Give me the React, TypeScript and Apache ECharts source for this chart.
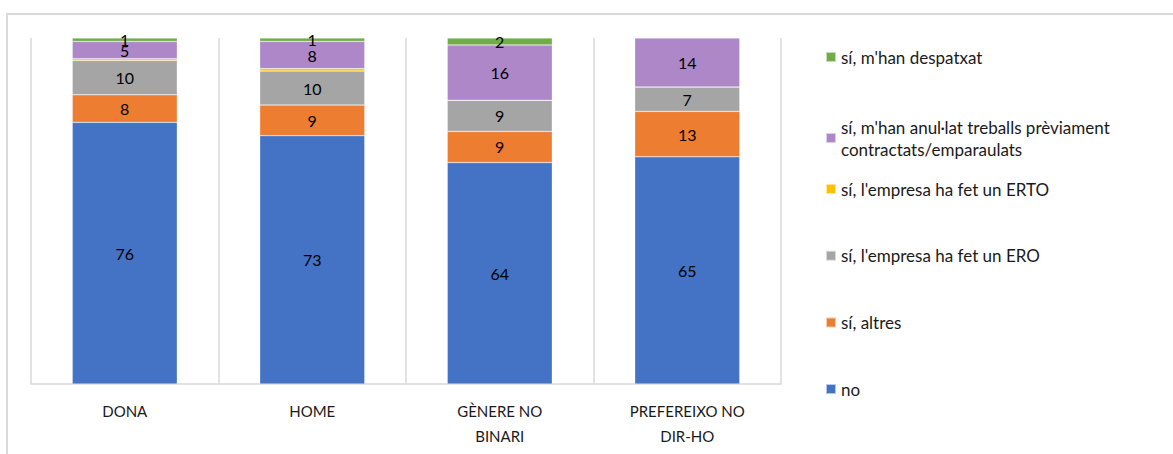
import React, { useEffect, useRef } from "react";
import * as echarts from "echarts";

const categories = ["DONA", "HOME", "GÈNERE NO\nBINARI", "PREFEREIXO NO\nDIR-HO"];

const nameNo = "no";
const nameAltres = "sí, altres";
const nameERO = "sí, l'empresa ha fet un ERO";
const nameERTO = "sí, l'empresa ha fet un ERTO";
const nameAnulat = "sí, m'han anul·lat treballs prèviament contractats/emparaulats";
const nameDespatxat = "sí, m'han despatxat";

const valuesNo = [76, 73, 64, 65];
const valuesAltres = [8, 9, 9, 13];
const valuesERO = [10, 10, 9, 7];
const valuesERTO = [0.5, 0.7, 0, 0];
const valuesAnulat = [5, 8, 16, 14];
const valuesDespatxat = [1, 1, 2, 0];

const FONT = "Lato";

export default function App() {
  const ref = useRef<HTMLDivElement>(null);

  useEffect(() => {
    if (!ref.current) return;
    const chart = echarts.init(ref.current, undefined, { renderer: "svg" });

    const seriesDefs = [
      { name: nameNo, values: valuesNo, color: "#4472C4", label: true },
      { name: nameAltres, values: valuesAltres, color: "#ED7D31", label: true },
      { name: nameERO, values: valuesERO, color: "#A5A5A5", label: true },
      { name: nameERTO, values: valuesERTO, color: "#FFC000", label: false },
      { name: nameAnulat, values: valuesAnulat, color: "#AD87C8", label: true },
      { name: nameDespatxat, values: valuesDespatxat, color: "#70AD47", label: true },
    ];

    const totals = categories.map((_, i) =>
      seriesDefs.reduce((s, d) => s + d.values[i], 0)
    );

    const series = seriesDefs.map((d) => ({
      name: d.name,
      type: "bar",
      stack: "total",
      barWidth: "56%",
      itemStyle: { color: d.color, borderColor: "rgba(255,255,255,0.6)", borderWidth: 0.5 },
      data: d.values.map((v, i) => (v / totals[i]) * 100),
      label: {
        show: d.label,
        position: "inside",
        fontFamily: FONT,
        fontSize: 16,
        color: "#000",
        formatter: (p: any) => {
          const raw = d.values[p.dataIndex];
          return raw > 0 ? String(Math.round(raw)) : "";
        },
      },
    }));

    const legendText = {
      fontFamily: FONT,
      fontSize: 17,
      color: "#1a1a1a",
      lineHeight: 20,
    };

    chart.setOption({
      animation: false,
      backgroundColor: "#fff",
      grid: { left: 31, right: 392, top: 38, bottom: 70 },
      xAxis: {
        type: "category",
        data: categories,
        axisLine: { lineStyle: { color: "#d9d9d9", width: 1.5 } },
        axisTick: { show: false },
        splitLine: { show: true, interval: 0, lineStyle: { color: "#d9d9d9", width: 1.5 } },
        axisLabel: {
          interval: 0,
          fontFamily: FONT,
          fontSize: 15,
          color: "#1a1a1a",
          lineHeight: 25,
          margin: 14,
        },
      },
      yAxis: { type: "value", min: 0, max: 100, show: false },
      legend: [
        {
          data: [nameDespatxat],
          left: 820,
          top: 42,
          orient: "vertical",
          icon: "rect",
          itemWidth: 10,
          itemHeight: 10,
          textStyle: legendText,
        },
        {
          data: [nameAnulat],
          left: 820,
          top: 100,
          orient: "vertical",
          icon: "rect",
          itemWidth: 10,
          itemHeight: 10,
          formatter: () => "sí, m'han anul·lat treballs prèviament\ncontractats/emparaulats",
          textStyle: { ...legendText, lineHeight: 22, padding: [22, 0, 0, 0] },
        },
        {
          data: [nameERTO, nameERO, nameAltres, nameNo],
          left: 820,
          top: 174,
          orient: "vertical",
          icon: "rect",
          itemWidth: 10,
          itemHeight: 10,
          itemGap: 46.7,
          textStyle: legendText,
        },
      ],
      graphic: [
        {
          type: "rect",
          shape: { x: 7, y: 14, width: 1300, height: 600 },
          style: { fill: "none", stroke: "#d9d9d9", lineWidth: 2 },
          silent: true,
        },
      ],
      series,
    });

    return () => chart.dispose();
  }, []);

  return (
    <div
      ref={ref}
      style={{ position: "fixed", left: 0, top: 0, width: 1173, height: 454 }}
    />
  );
}
